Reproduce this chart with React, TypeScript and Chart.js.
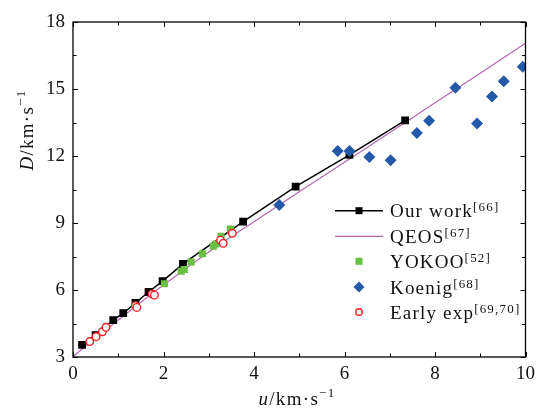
import { useEffect, useRef } from 'react';
import { Chart, registerables } from 'chart.js';
Chart.register(...registerables);

const xTicks = [0, 2, 4, 6, 8, 10];
const yTicks = [3, 6, 9, 12, 15, 18];

const ourU = [0.2, 0.5, 0.89, 1.11, 1.38, 1.67, 1.98, 2.43, 3.76, 4.92, 6.11, 7.34];
const ourD = [3.54, 3.98, 4.65, 4.96, 5.42, 5.91, 6.4, 7.17, 9.06, 10.63, 12.05, 13.6];

const qeosU = [0, 0.5, 1, 1.5, 2, 2.5, 3, 3.5, 4, 5, 6, 7, 8, 9, 10];
const qeosD = [3.02, 3.85, 4.65, 5.45, 6.22, 6.97, 7.7, 8.4, 9.06, 10.4, 11.72, 13.05, 14.38, 15.71, 17.05];

const yokooU = [2.02, 2.39, 2.46, 2.61, 2.86, 3.1, 3.16, 3.27, 3.48];
const yokooD = [6.28, 6.84, 6.92, 7.25, 7.62, 7.96, 8.06, 8.4, 8.73];

const koenigU = [4.56, 5.85, 6.11, 6.55, 7.02, 7.6, 7.87, 8.45, 8.93, 9.26, 9.52, 9.94];
const koenigD = [9.81, 12.22, 12.22, 11.96, 11.81, 13.03, 13.58, 15.06, 13.45, 14.66, 15.35, 16.0];

const earlyU = [0.37, 0.51, 0.65, 0.73, 1.38, 1.41, 1.75, 1.8, 3.26, 3.32, 3.52];
const earlyD = [3.69, 3.91, 4.13, 4.33, 5.3, 5.22, 5.82, 5.77, 8.23, 8.09, 8.54];

const legendLabels = [
  { name: 'Our work', sup: '[66]' },
  { name: 'QEOS', sup: '[67]' },
  { name: 'YOKOO', sup: '[52]' },
  { name: 'Koenig', sup: '[68]' },
  { name: 'Early exp', sup: '[69,70]' },
];

const BLACK = '#000000';
const PURPLE = '#b466b4';
const GREEN = '#6abf45';
const BLUE = '#2458a8';
const RED = '#ee2222';
const SERIF = '"Liberation Serif", "DejaVu Serif", serif';

const pts = (u: number[], d: number[]) => u.map((v, i) => ({ x: v, y: d[i] }));

type Part = { t: string; font: string; dy?: number };

function drawParts(ctx: CanvasRenderingContext2D, parts: Part[], x: number, y: number, align: 'left' | 'center') {
  let w = 0;
  for (const p of parts) {
    ctx.font = p.font;
    w += ctx.measureText(p.t).width;
  }
  let cx = align === 'center' ? x - w / 2 : x;
  for (const p of parts) {
    ctx.font = p.font;
    ctx.fillText(p.t, cx, y + (p.dy || 0));
    cx += ctx.measureText(p.t).width;
  }
}

const framePlugin = {
  id: 'framePlugin',
  afterDraw(chart: any) {
    const ctx: CanvasRenderingContext2D = chart.ctx;
    const { left, right, top, bottom } = chart.chartArea;
    const xs = chart.scales.x;
    const ys = chart.scales.y;
    ctx.save();
    ctx.strokeStyle = '#000';
    ctx.lineWidth = 1.3;
    ctx.strokeRect(left, top, right - left, bottom - top);
    ctx.lineWidth = 1;
    ctx.beginPath();
    for (let v = 0; v <= 10; v += 1) {
      const px = Math.round(xs.getPixelForValue(v)) + 0.5;
      const len = v % 2 === 0 ? 5 : 3.5;
      ctx.moveTo(px, bottom); ctx.lineTo(px, bottom - len);
      ctx.moveTo(px, top); ctx.lineTo(px, top + len);
    }
    for (let v = 3; v <= 18; v += 1.5) {
      const py = Math.round(ys.getPixelForValue(v)) + 0.5;
      const len = (v - 3) % 3 === 0 ? 5 : 3.5;
      ctx.moveTo(left, py); ctx.lineTo(left + len, py);
      ctx.moveTo(right, py); ctx.lineTo(right - len, py);
    }
    ctx.stroke();

    // axis titles
    ctx.fillStyle = '#111';
    ctx.textBaseline = 'alphabetic';
    (ctx as any).letterSpacing = '1.3px';
    drawParts(ctx, [
      { t: 'u', font: `italic 19px ${SERIF}` },
      { t: '/km·s', font: `19px ${SERIF}` },
      { t: '−1', font: `13px ${SERIF}`, dy: -8 },
    ], 297, 405, 'center');
    ctx.save();
    ctx.translate(33, 130);
    ctx.rotate(-Math.PI / 2);
    drawParts(ctx, [
      { t: 'D', font: `italic 19px ${SERIF}` },
      { t: '/km·s', font: `19px ${SERIF}` },
      { t: '−1', font: `13px ${SERIF}`, dy: -8 },
    ], 0, 0, 'center');
    ctx.restore();

    // legend
    const rows = [210.7, 236.3, 261.3, 287, 312];
    const sx0 = 335, sx1 = 383, sc = 359, tx = 390;
    ctx.strokeStyle = BLACK; ctx.lineWidth = 1.5;
    ctx.beginPath(); ctx.moveTo(sx0, rows[0]); ctx.lineTo(sx1, rows[0]); ctx.stroke();
    ctx.fillStyle = BLACK; ctx.fillRect(sc - 3.5, rows[0] - 3.5, 7, 7);
    ctx.strokeStyle = PURPLE; ctx.lineWidth = 1.3;
    ctx.beginPath(); ctx.moveTo(sx0, rows[1]); ctx.lineTo(sx1, rows[1]); ctx.stroke();
    ctx.fillStyle = GREEN; ctx.fillRect(sc - 3.5, rows[2] - 3.5, 7, 7);
    ctx.fillStyle = BLUE;
    ctx.beginPath();
    ctx.moveTo(sc - 5.5, rows[3]); ctx.lineTo(sc, rows[3] - 5.5); ctx.lineTo(sc + 5.5, rows[3]); ctx.lineTo(sc, rows[3] + 5.5);
    ctx.closePath(); ctx.fill();
    ctx.strokeStyle = RED; ctx.lineWidth = 1.4; ctx.fillStyle = '#fff';
    ctx.beginPath(); ctx.arc(sc, rows[4], 3.3, 0, Math.PI * 2); ctx.fill(); ctx.stroke();

    ctx.fillStyle = '#111';
    (ctx as any).letterSpacing = '1.2px';
    legendLabels.forEach((l, i) => {
      drawParts(ctx, [
        { t: l.name, font: `19px ${SERIF}` },
        { t: l.sup, font: `13px ${SERIF}`, dy: -6 },
      ], tx, rows[i] + 6.5, 'left');
    });
    ctx.restore();
  },
};

export default function App() {
  const ref = useRef<HTMLCanvasElement | null>(null);
  useEffect(() => {
    if (!ref.current) return;
    const chart = new Chart(ref.current, {
      type: 'scatter',
      data: {
        datasets: [
          {
            label: 'Early exp',
            data: pts(earlyU, earlyD),
            pointStyle: 'circle',
            pointRadius: 3.8,
            pointBorderWidth: 1.4,
            borderColor: RED,
            backgroundColor: '#ffffff',
            showLine: false,
          },
          {
            label: 'Koenig',
            data: pts(koenigU, koenigD),
            pointStyle: 'rectRot',
            pointRadius: 6,
            pointBorderWidth: 0,
            borderColor: BLUE,
            backgroundColor: BLUE,
            showLine: false,
          },
          {
            label: 'YOKOO',
            data: pts(yokooU, yokooD),
            pointStyle: 'rect',
            pointRadius: 5,
            pointBorderWidth: 0,
            borderColor: GREEN,
            backgroundColor: GREEN,
            showLine: false,
          },
          {
            label: 'Our work',
            data: pts(ourU, ourD),
            pointStyle: 'rect',
            pointRadius: 5.5,
            pointBorderWidth: 0,
            borderColor: BLACK,
            backgroundColor: BLACK,
            borderWidth: 1.5,
            showLine: true,
          },
          {
            label: 'QEOS',
            data: pts(qeosU, qeosD),
            pointRadius: 0,
            borderColor: PURPLE,
            backgroundColor: PURPLE,
            borderWidth: 1.2,
            showLine: true,
            tension: 0.3,
          } as any,
        ],
      },
      options: {
        animation: false,
        responsive: false,
        maintainAspectRatio: false,
        layout: { padding: { left: 0, top: 22, right: 13, bottom: 0 } },
        plugins: { legend: { display: false }, tooltip: { enabled: false } },
        scales: {
          x: {
            type: 'linear',
            min: 0,
            max: 10,
            afterBuildTicks: (s: any) => { s.ticks = xTicks.map((v) => ({ value: v })); },
            afterFit: (s: any) => { s.height = 53; },
            grid: { display: false, drawTicks: false },
            border: { display: false },
            ticks: { padding: 6, color: '#111', font: { family: SERIF, size: 19 }, maxRotation: 0 },
          },
          y: {
            type: 'linear',
            min: 3,
            max: 18,
            afterBuildTicks: (s: any) => { s.ticks = yTicks.map((v) => ({ value: v })); },
            afterFit: (s: any) => { s.width = 73; },
            grid: { display: false, drawTicks: false },
            border: { display: false },
            ticks: { padding: 8, color: '#111', font: { family: SERIF, size: 19 } },
          },
        },
      },
      plugins: [framePlugin],
    });
    return () => chart.destroy();
  }, []);
  return (
    <div style={{ position: 'absolute', left: 0, top: 0, width: 541, height: 410, background: '#fff' }}>
      <canvas ref={ref} width={541} height={410} style={{ width: 541, height: 410 }} />
    </div>
  );
}
